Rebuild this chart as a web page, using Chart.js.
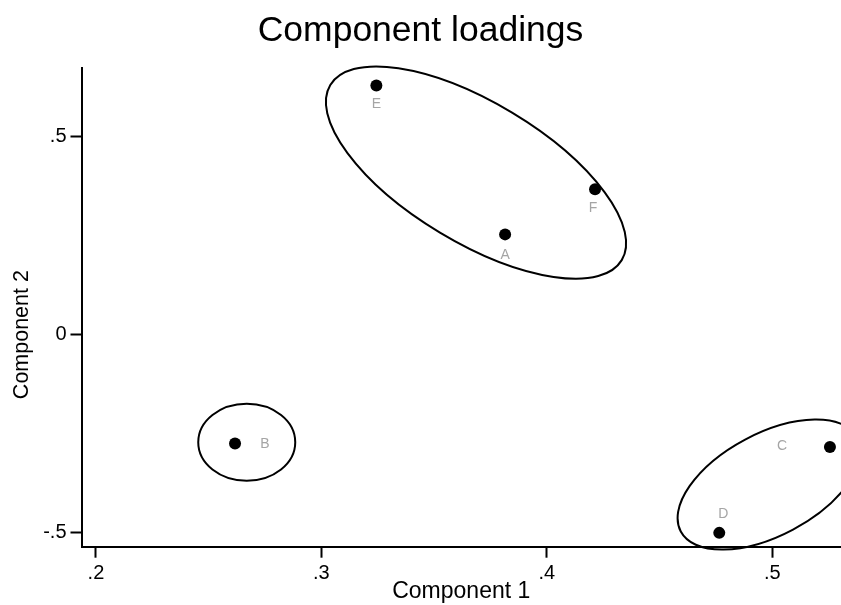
<!DOCTYPE html>
<html>
<head>
<meta charset="utf-8">
<script src="https://cdn.jsdelivr.net/npm/chart.js@4/dist/chart.umd.min.js"></script>
<style>
body { margin: 0; background: #fff; }
</style>
</head>
<body>
<canvas id="canvas" width="841" height="605"></canvas>
<script>
var names = ['A', 'B', 'C', 'D', 'E', 'F'];
var component1 = [0.3815, 0.2617, 0.5256, 0.4765, 0.3244, 0.4214];
var component2 = [0.253, -0.2747, -0.2835, -0.5005, 0.629, 0.367];
var xTicks = [0.2, 0.3, 0.4, 0.5];
var yTicks = [-0.5, 0, 0.5];

function fmt(v) {
	if (v === 0) return '0';
	return String(v).replace(/^(-?)0\./, '$1.');
}

// groups drawn around the points (center in data units, radii in px)
var ellipsePlugin = {
	id: 'ellipses',
	afterDatasetsDraw: function(chart, args, opts) {
		var ctx = chart.ctx;
		var xs = chart.scales.x, ys = chart.scales.y;
		ctx.save();
		ctx.strokeStyle = '#000';
		ctx.lineWidth = 2;
		opts.items.forEach(function(e) {
			ctx.beginPath();
			ctx.ellipse(xs.getPixelForValue(e.cx), ys.getPixelForValue(e.cy), e.a, e.b, e.rot * Math.PI / 180, 0, Math.PI * 2);
			ctx.stroke();
		});
		ctx.restore();
	}
};

var labelPlugin = {
	id: 'pointLabels',
	afterDatasetsDraw: function(chart, args, opts) {
		var ctx = chart.ctx;
		var meta = chart.getDatasetMeta(0);
		ctx.save();
		ctx.font = '14px "Liberation Sans", Arial, sans-serif';
		ctx.fillStyle = '#a5a5a5';
		ctx.textAlign = 'center';
		ctx.textBaseline = 'middle';
		meta.data.forEach(function(pt, i) {
			var off = opts.offsets[names[i]];
			ctx.fillText(names[i], pt.x + off[0], pt.y + off[1]);
		});
		// y axis title, centred on zero
		var ys = chart.scales.y;
		ctx.fillStyle = '#000';
		ctx.font = '21.5px "Liberation Sans", Arial, sans-serif';
		ctx.translate(22, ys.getPixelForValue(0));
		ctx.rotate(-Math.PI / 2);
		ctx.fillText('Component 2', 0, 0);
		ctx.restore();
	}
};

window.onload = function() {
	var ctx = document.getElementById('canvas').getContext('2d');
	var points = names.map(function(n, i) {
		return { x: component1[i], y: component2[i] };
	});

	window.myChart = new Chart(ctx, {
		type: 'scatter',
		data: {
			datasets: [{
				label: 'loadings',
				data: points,
				pointRadius: 6,
				pointHoverRadius: 6,
				backgroundColor: '#000',
				borderWidth: 0,
				clip: false
			}]
		},
		plugins: [ellipsePlugin, labelPlugin],
		options: {
			responsive: false,
			animation: false,
			layout: { padding: 0, autoPadding: false },
			plugins: {
				legend: { display: false },
				tooltip: { enabled: false },
				title: {
					display: true,
					text: 'Component loadings',
					color: '#000',
					font: { family: '"Liberation Sans", Arial, sans-serif', size: 35.5, weight: 'normal' },
					padding: { top: 10, bottom: 15.4 }
				},
				ellipses: {
					items: [
						{ cx: 0.3686, cy: 0.409, a: 170, b: 70, rot: 31 },
						{ cx: 0.2669, cy: -0.2716, a: 48.5, b: 38.5, rot: 0 },
						{ cx: 0.4986, cy: -0.3785, a: 100, b: 51, rot: -28 }
					]
				},
				pointLabels: {
					offsets: { A: [0, 21], B: [30, 1], C: [-48, -1], D: [4, -19], E: [0, 19], F: [-2, 19] }
				}
			},
			scales: {
				x: {
					type: 'linear',
					min: 0.1936,
					max: 0.5305,
					afterFit: function(s) { s.height = 58.3; s.paddingLeft = 0; s.paddingRight = 0; },
					afterBuildTicks: function(s) { s.ticks = xTicks.map(function(v) { return { value: v }; }); },
					border: { display: true, color: '#000', width: 2 },
					grid: { drawOnChartArea: false, drawTicks: true, tickLength: 11, tickColor: '#000', tickWidth: 2 },
					ticks: {
						color: '#000',
						padding: 4,
						font: { family: '"Liberation Sans", Arial, sans-serif', size: 20 },
						callback: function(v) { return fmt(v); }
					},
					title: {
						display: true,
						text: 'Component 1',
						color: '#000',
						padding: 0,
						font: { family: '"Liberation Sans", Arial, sans-serif', size: 23 }
					}
				},
				y: {
					type: 'linear',
					min: -0.5354,
					max: 0.673,
					afterFit: function(s) { s.width = 81.5; s.paddingTop = 0; s.paddingBottom = 0; },
					afterBuildTicks: function(s) { s.ticks = yTicks.map(function(v) { return { value: v }; }); },
					border: { display: true, color: '#000', width: 2 },
					grid: { drawOnChartArea: false, drawTicks: true, tickLength: 11, tickColor: '#000', tickWidth: 2 },
					ticks: {
						color: '#000',
						padding: 4,
						font: { family: '"Liberation Sans", Arial, sans-serif', size: 20 },
						callback: function(v) { return fmt(v); }
					}
				}
			}
		}
	});
};
</script>
</body>
</html>
